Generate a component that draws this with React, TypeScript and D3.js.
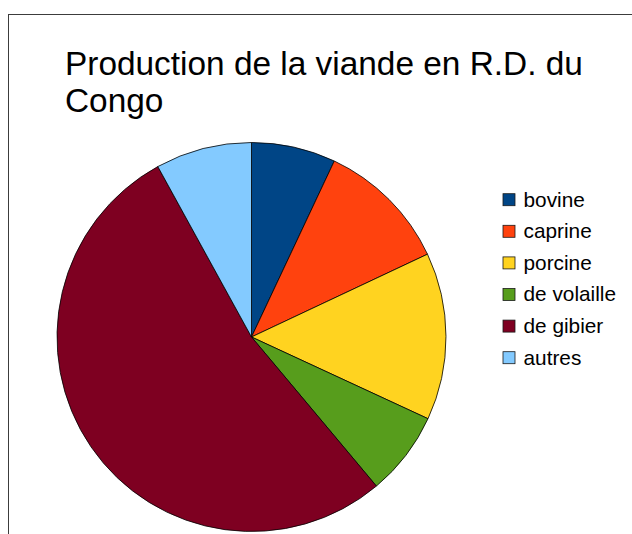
import React from "react";
import * as d3 from "d3";

const categories = ["bovine", "caprine", "porcine", "de volaille", "de gibier", "autres"];
const values = [7.0, 11.0, 13.9, 7.0, 53.1, 8.0];
const colors = ["#004586", "#ff420e", "#ffd320", "#579d1c", "#7e0021", "#83caff"];
const titleLines = ["Production de la viande en R.D. du", "Congo"];

export default function App() {
  const W = 632, H = 534;
  const cx = 251.5, cy = 337, r = 194.5;
  const pie = d3.pie<number>().sort(null).value((d) => d)(values);
  const arc = d3.arc<d3.PieArcDatum<number>>().innerRadius(0).outerRadius(r);
  const color = d3.scaleOrdinal<string, string>().domain(categories).range(colors);
  const legendY = d3.scalePoint<string>().domain(categories).range([199.5, 357.5]);
  return (
    <svg width={W} height={H} style={{ position: "absolute", left: 0, top: 0 }}
      fontFamily="'Liberation Sans', Arial, sans-serif">
      <rect x={0} y={0} width={W} height={H} fill="#fff" />
      <rect x={8.5} y={14.5} width={W + 20} height={H + 20} fill="#fff" stroke="#3c3c3c" strokeWidth={1} />
      {titleLines.map((t, i) => (
        <text key={i} x={65} y={75 + i * 36.5} fontSize={33.4} fill="#000">{t}</text>
      ))}
      <g transform={`translate(${cx},${cy})`}>
        {pie.map((p, i) => (
          <path key={i} d={arc(p) || ""} fill={color(categories[i])} stroke="#000" strokeWidth={0.8} strokeLinejoin="round" />
        ))}
      </g>
      {categories.map((c) => (
        <g key={c} transform={`translate(0,${legendY(c)})`}>
          <rect x={503} y={-5.8} width={12} height={12} fill={color(c)} stroke="#1a1a1a" strokeWidth={0.8} />
          <text x={523.5} y={7} fontSize={20.8} fill="#000">{c}</text>
        </g>
      ))}
    </svg>
  );
}
